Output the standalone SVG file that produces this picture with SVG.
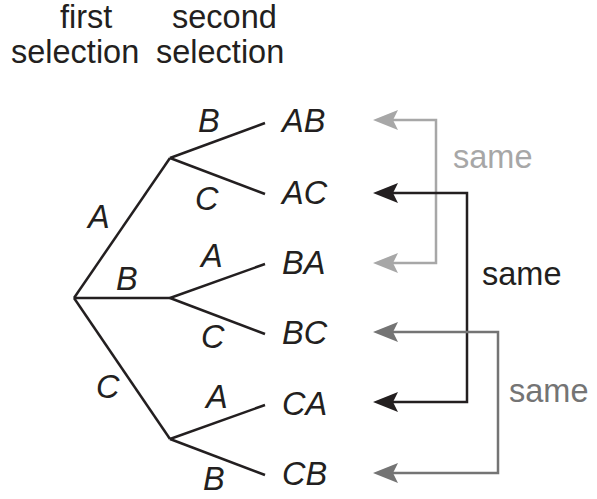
<svg xmlns="http://www.w3.org/2000/svg" width="597" height="499" viewBox="0 0 597 499">
<style>
text{font-family:"Liberation Sans",Arial,sans-serif;font-size:32.5px;fill:#231f20}
.i{font-style:italic}
.tree line{stroke:#231f20;stroke-width:2.5;fill:none}
.c{fill:none;stroke-width:2.5}
</style>
<defs>
<marker id="mL" markerUnits="userSpaceOnUse" markerWidth="30" markerHeight="24" viewBox="0 -12 30 24" refX="5" refY="0" orient="auto-start-reverse"><path d="M0,-10 L25,0 L0,10 L5,0 Z" fill="#a7a7a7"/></marker>
<marker id="mK" markerUnits="userSpaceOnUse" markerWidth="30" markerHeight="24" viewBox="0 -12 30 24" refX="5" refY="0" orient="auto-start-reverse"><path d="M0,-10 L25,0 L0,10 L5,0 Z" fill="#231f20"/></marker>
<marker id="mD" markerUnits="userSpaceOnUse" markerWidth="30" markerHeight="24" viewBox="0 -12 30 24" refX="5" refY="0" orient="auto-start-reverse"><path d="M0,-10 L25,0 L0,10 L5,0 Z" fill="#747474"/></marker>
</defs>
<g id="headers">
<text x="60" y="28">first</text>
<text x="11" y="63">selection</text>
<text x="172" y="28">second</text>
<text x="156" y="63">selection</text>
</g>
<g id="tree" class="tree">
<line x1="74" y1="298" x2="170" y2="158"/>
<line x1="74" y1="298" x2="170" y2="298"/>
<line x1="74" y1="298" x2="170" y2="439"/>
<line x1="170" y1="158" x2="265" y2="123"/>
<line x1="170" y1="158" x2="265" y2="194"/>
<line x1="170" y1="298" x2="265" y2="264"/>
<line x1="170" y1="298" x2="265" y2="334"/>
<line x1="170" y1="439" x2="265" y2="405"/>
<line x1="170" y1="439" x2="265" y2="475"/>
</g>
<g id="branch-labels">
<text class="i" x="88" y="228">A</text>
<text class="i" x="116" y="290">B</text>
<text class="i" x="96" y="398">C</text>
<text class="i" x="198" y="132">B</text>
<text class="i" x="195" y="210">C</text>
<text class="i" x="201" y="267">A</text>
<text class="i" x="201" y="348">C</text>
<text class="i" x="206" y="408">A</text>
<text class="i" x="203" y="490">B</text>
</g>
<g id="leaf-AB"><text class="i" x="282" y="132">AB</text></g>
<g id="leaf-AC"><text class="i" x="282" y="204">AC</text></g>
<g id="leaf-BA"><text class="i" x="282" y="274">BA</text></g>
<g id="leaf-BC"><text class="i" x="282" y="344">BC</text></g>
<g id="leaf-CA"><text class="i" x="282" y="415">CA</text></g>
<g id="leaf-CB"><text class="i" x="282" y="485">CB</text></g>
<g id="connectors">
<path class="c" stroke="#a7a7a7" d="M393,120 H436 V263 H393" marker-start="url(#mL)" marker-end="url(#mL)"/>
<path class="c" stroke="#231f20" d="M393,193 H467 V402 H393" marker-start="url(#mK)" marker-end="url(#mK)"/>
<path class="c" stroke="#747474" d="M393,332 H498 V473 H393" marker-start="url(#mD)" marker-end="url(#mD)"/>
</g>
<g id="same-labels">
<text x="453" y="168" style="fill:#a7a7a7">same</text>
<text x="482" y="285">same</text>
<text x="509" y="402" style="fill:#747474">same</text>
</g>
</svg>
